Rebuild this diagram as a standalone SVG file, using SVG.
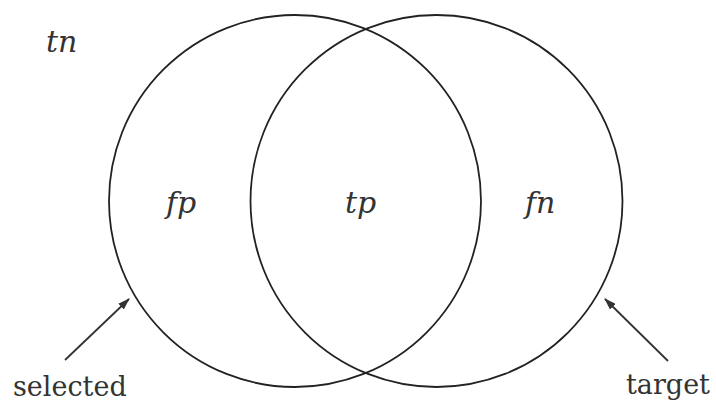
<svg xmlns="http://www.w3.org/2000/svg" width="716" height="405" viewBox="0 0 716 405">
<style>
.c{fill:none;stroke:#222;stroke-width:1.8}
.l{font-family:"DejaVu Serif","Liberation Serif",serif;font-style:italic;font-size:30px;fill:#333}
.t{font-family:"DejaVu Serif","Liberation Serif",serif;font-size:27px;fill:#333}
.a{stroke:#333;stroke-width:1.8;fill:none}
</style>
<defs>
<marker id="ah" viewBox="0 0 12 8" refX="11" refY="4" markerWidth="12" markerHeight="8" markerUnits="userSpaceOnUse" orient="auto">
<path d="M0,0 L12,4 L0,8 Z" fill="#333"/>
</marker>
</defs>
<rect width="716" height="405" fill="#fff"/>
<g id="selected-set">
<circle class="c" cx="295" cy="201" r="186"/>
<text class="l" x="166" y="213">fp</text>
</g>
<g id="target-set">
<circle class="c" cx="436.5" cy="201" r="186"/>
<text class="l" x="525" y="213">fn</text>
</g>
<g id="intersection">
<text class="l" x="345" y="213">tp</text>
</g>
<g id="outside">
<text class="l" x="46" y="52">tn</text>
</g>
<g id="label-selected">
<text class="t" x="13" y="396">selected</text>
</g>
<g id="label-target">
<text class="t" x="626" y="394">target</text>
</g>
<g id="connectors">
<line class="a" x1="65" y1="360" x2="129" y2="299" marker-end="url(#ah)"/>
<line class="a" x1="668" y1="361" x2="605" y2="299" marker-end="url(#ah)"/>
</g>
</svg>
